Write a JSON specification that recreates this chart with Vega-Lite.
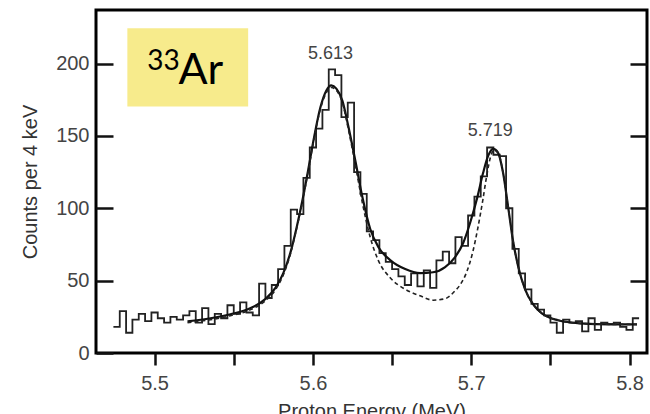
{
  "$schema": "https://vega.github.io/schema/vega-lite/v6.json",
  "width": 551,
  "height": 343,
  "autosize": {"type": "none"},
  "padding": {"left": 96, "top": 10, "right": 3, "bottom": 61},
  "background": "white",
  "config": {
    "view": {"stroke": "#000", "strokeWidth": 3},
    "axis": {
      "domain": false, "grid": false,
      "labelFont": "Liberation Sans", "titleFont": "Liberation Sans",
      "labelColor": "#444", "titleColor": "#333",
      "tickColor": "#111", "labelFontSize": 20, "titleFontSize": 20,
      "titleFontWeight": "normal"
    }
  },
  "datasets": {
    "hist": [
      {"E": 5.474, "c": 18}, {"E": 5.478, "c": 29}, {"E": 5.482, "c": 14}, {"E": 5.486, "c": 23},
      {"E": 5.490, "c": 27}, {"E": 5.494, "c": 22}, {"E": 5.498, "c": 28}, {"E": 5.502, "c": 24},
      {"E": 5.506, "c": 21}, {"E": 5.510, "c": 25}, {"E": 5.514, "c": 23}, {"E": 5.518, "c": 26},
      {"E": 5.522, "c": 29}, {"E": 5.526, "c": 21}, {"E": 5.530, "c": 31}, {"E": 5.534, "c": 20},
      {"E": 5.538, "c": 27}, {"E": 5.542, "c": 24}, {"E": 5.546, "c": 33}, {"E": 5.550, "c": 27},
      {"E": 5.554, "c": 35}, {"E": 5.558, "c": 28}, {"E": 5.562, "c": 26}, {"E": 5.566, "c": 48},
      {"E": 5.570, "c": 38}, {"E": 5.574, "c": 47}, {"E": 5.578, "c": 58}, {"E": 5.582, "c": 74},
      {"E": 5.586, "c": 99}, {"E": 5.590, "c": 96}, {"E": 5.594, "c": 121}, {"E": 5.598, "c": 142},
      {"E": 5.602, "c": 155}, {"E": 5.606, "c": 168}, {"E": 5.610, "c": 196}, {"E": 5.614, "c": 192},
      {"E": 5.618, "c": 163}, {"E": 5.622, "c": 173}, {"E": 5.626, "c": 125}, {"E": 5.630, "c": 110},
      {"E": 5.634, "c": 84}, {"E": 5.638, "c": 78}, {"E": 5.642, "c": 69}, {"E": 5.646, "c": 63},
      {"E": 5.650, "c": 58}, {"E": 5.654, "c": 53}, {"E": 5.658, "c": 47}, {"E": 5.662, "c": 55},
      {"E": 5.666, "c": 46}, {"E": 5.670, "c": 57}, {"E": 5.674, "c": 45}, {"E": 5.678, "c": 64},
      {"E": 5.682, "c": 70}, {"E": 5.686, "c": 62}, {"E": 5.690, "c": 80}, {"E": 5.694, "c": 74},
      {"E": 5.698, "c": 95}, {"E": 5.702, "c": 108}, {"E": 5.706, "c": 122}, {"E": 5.710, "c": 142},
      {"E": 5.714, "c": 137}, {"E": 5.718, "c": 136}, {"E": 5.722, "c": 100}, {"E": 5.726, "c": 72},
      {"E": 5.730, "c": 55}, {"E": 5.734, "c": 44}, {"E": 5.738, "c": 34}, {"E": 5.742, "c": 30},
      {"E": 5.746, "c": 26}, {"E": 5.750, "c": 21}, {"E": 5.754, "c": 14}, {"E": 5.758, "c": 23},
      {"E": 5.762, "c": 21}, {"E": 5.766, "c": 22}, {"E": 5.770, "c": 15}, {"E": 5.774, "c": 24},
      {"E": 5.778, "c": 16}, {"E": 5.782, "c": 21}, {"E": 5.786, "c": 20}, {"E": 5.790, "c": 21},
      {"E": 5.794, "c": 18}, {"E": 5.798, "c": 16}, {"E": 5.802, "c": 24}, {"E": 5.806, "c": 24}
    ],
    "solid": [
      {"E": 5.5208, "c": 21.9}, {"E": 5.5353, "c": 24}, {"E": 5.5479, "c": 26.8}, {"E": 5.5604, "c": 30.9},
      {"E": 5.5699, "c": 37.2}, {"E": 5.5762, "c": 44.8}, {"E": 5.5813, "c": 55.2}, {"E": 5.5857, "c": 69},
      {"E": 5.5895, "c": 85.7}, {"E": 5.5933, "c": 105}, {"E": 5.5971, "c": 127}, {"E": 5.6009, "c": 150},
      {"E": 5.6047, "c": 169.6}, {"E": 5.6085, "c": 181.4}, {"E": 5.6116, "c": 184.9}, {"E": 5.6148, "c": 182.7},
      {"E": 5.6186, "c": 174.4}, {"E": 5.6223, "c": 157}, {"E": 5.6268, "c": 132.8}, {"E": 5.6312, "c": 107.9},
      {"E": 5.6362, "c": 85.7}, {"E": 5.6413, "c": 73.3}, {"E": 5.6488, "c": 64.2}, {"E": 5.6583, "c": 58},
      {"E": 5.6677, "c": 55.2}, {"E": 5.6759, "c": 55.8}, {"E": 5.6835, "c": 59.4}, {"E": 5.6898, "c": 66.3},
      {"E": 5.6949, "c": 76}, {"E": 5.6993, "c": 90}, {"E": 5.7037, "c": 107}, {"E": 5.7075, "c": 124.5},
      {"E": 5.7106, "c": 136}, {"E": 5.7138, "c": 141}, {"E": 5.7169, "c": 138.5}, {"E": 5.7201, "c": 124.5},
      {"E": 5.7232, "c": 101.7}, {"E": 5.7264, "c": 77.4}, {"E": 5.7296, "c": 60}, {"E": 5.7340, "c": 44},
      {"E": 5.7390, "c": 33.7}, {"E": 5.7453, "c": 26.8}, {"E": 5.7548, "c": 22.6}, {"E": 5.7686, "c": 20.5},
      {"E": 5.7876, "c": 19.8}, {"E": 5.8047, "c": 19.8}
    ],
    "dashed": [
      {"E": 5.5208, "c": 21}, {"E": 5.5353, "c": 23}, {"E": 5.5479, "c": 25.8}, {"E": 5.5604, "c": 29.8},
      {"E": 5.5699, "c": 36}, {"E": 5.5762, "c": 43.5}, {"E": 5.5813, "c": 54}, {"E": 5.5857, "c": 68},
      {"E": 5.5895, "c": 85}, {"E": 5.5933, "c": 104}, {"E": 5.5971, "c": 126}, {"E": 5.6009, "c": 149},
      {"E": 5.6047, "c": 168.5}, {"E": 5.6085, "c": 180}, {"E": 5.6116, "c": 183.5}, {"E": 5.6148, "c": 181.5},
      {"E": 5.6186, "c": 173}, {"E": 5.6223, "c": 155}, {"E": 5.6268, "c": 130}, {"E": 5.6312, "c": 104},
      {"E": 5.6362, "c": 80}, {"E": 5.6413, "c": 64}, {"E": 5.6488, "c": 52}, {"E": 5.6583, "c": 44},
      {"E": 5.6677, "c": 39.5}, {"E": 5.6759, "c": 36.5}, {"E": 5.6835, "c": 37.5}, {"E": 5.6898, "c": 43},
      {"E": 5.6929, "c": 47}, {"E": 5.6973, "c": 56.5}, {"E": 5.7010, "c": 70}, {"E": 5.7041, "c": 86},
      {"E": 5.7072, "c": 105}, {"E": 5.7097, "c": 122}, {"E": 5.7122, "c": 135.6}, {"E": 5.7141, "c": 140},
      {"E": 5.7169, "c": 138.5}, {"E": 5.7201, "c": 124.5}, {"E": 5.7232, "c": 101.7}, {"E": 5.7264, "c": 77.4},
      {"E": 5.7296, "c": 60}, {"E": 5.7340, "c": 44}, {"E": 5.7390, "c": 33.7}, {"E": 5.7453, "c": 26.8},
      {"E": 5.7548, "c": 22.6}, {"E": 5.7686, "c": 20.5}, {"E": 5.7876, "c": 19.8}, {"E": 5.8047, "c": 19.8}
    ],
    "peaks": [
      {"E": 5.6111, "c": 206.7, "label": "5.613"},
      {"E": 5.7120, "c": 153.7, "label": "5.719"}
    ],
    "box": [{"x0": 5.4828, "x1": 5.5591, "y0": 170.3, "y1": 224.4}],
    "sup": [{"E": 5.4954, "c": 195.3, "t": "33"}],
    "elem": [{"E": 5.5151, "c": 186.1, "t": "Ar"}]
  },
  "resolve": {"axis": {"y": "independent"}},
  "layer": [
    {
      "data": {"name": "hist"},
      "mark": {"type": "line", "interpolate": "step-after", "color": "#222", "strokeWidth": 1.8},
      "encoding": {
        "x": {
          "field": "E", "type": "quantitative",
          "scale": {"domain": [5.463, 5.811], "nice": false, "zero": false},
          "axis": {
            "orient": "bottom",
            "values": [5.5, 5.55, 5.6, 5.65, 5.7, 5.75, 5.8],
            "labelExpr": "abs(datum.value*10 - round(datum.value*10)) < 0.001 ? format(datum.value, '.1f') : ''",
            "tickSize": 12, "tickWidth": 2.5, "labelPadding": 8,
            "title": "Proton Energy (MeV)", "titlePadding": 8
          }
        },
        "y": {
          "field": "c", "type": "quantitative",
          "scale": {"domain": [0, 237], "nice": false},
          "axis": {
            "orient": "left",
            "values": [0, 50, 100, 150, 200],
            "tickSize": -17, "tickWidth": 2.5, "labelPadding": 24,
            "title": "Counts per 4 keV", "titlePadding": 15
          }
        }
      }
    },
    {
      "data": {"name": "box"},
      "mark": {"type": "rect", "fill": "#F7EB8C"},
      "encoding": {
        "x": {"field": "x0", "type": "quantitative"},
        "x2": {"field": "x1"},
        "y": {"field": "y0", "type": "quantitative", "axis": null},
        "y2": {"field": "y1"}
      }
    },
    {
      "data": {"name": "solid"},
      "mark": {"type": "line", "interpolate": "monotone", "color": "#111", "strokeWidth": 2.2},
      "encoding": {
        "x": {"field": "E", "type": "quantitative"},
        "y": {
          "field": "c", "type": "quantitative",
          "axis": {"orient": "right", "values": [50, 100, 150, 200], "tickSize": -17, "tickWidth": 2.5, "labels": false, "title": null}
        }
      }
    },
    {
      "data": {"name": "dashed"},
      "mark": {"type": "line", "interpolate": "monotone", "color": "#222", "strokeWidth": 1.6, "strokeDash": [4, 3]},
      "encoding": {
        "x": {"field": "E", "type": "quantitative"},
        "y": {"field": "c", "type": "quantitative", "axis": null}
      }
    },
    {
      "data": {"name": "peaks"},
      "mark": {"type": "text", "font": "Liberation Sans", "fontSize": 18, "color": "#444", "align": "center", "baseline": "middle"},
      "encoding": {
        "x": {"field": "E", "type": "quantitative"},
        "y": {"field": "c", "type": "quantitative", "axis": null},
        "text": {"field": "label"}
      }
    },
    {
      "data": {"name": "sup"},
      "mark": {"type": "text", "font": "Lato", "fontSize": 28, "color": "#000", "align": "left", "baseline": "alphabetic"},
      "encoding": {
        "x": {"field": "E", "type": "quantitative"},
        "y": {"field": "c", "type": "quantitative", "axis": null},
        "text": {"field": "t"}
      }
    },
    {
      "data": {"name": "elem"},
      "mark": {"type": "text", "font": "Lato", "fontSize": 43, "color": "#000", "align": "left", "baseline": "alphabetic"},
      "encoding": {
        "x": {"field": "E", "type": "quantitative"},
        "y": {"field": "c", "type": "quantitative", "axis": null},
        "text": {"field": "t"}
      }
    }
  ]
}
